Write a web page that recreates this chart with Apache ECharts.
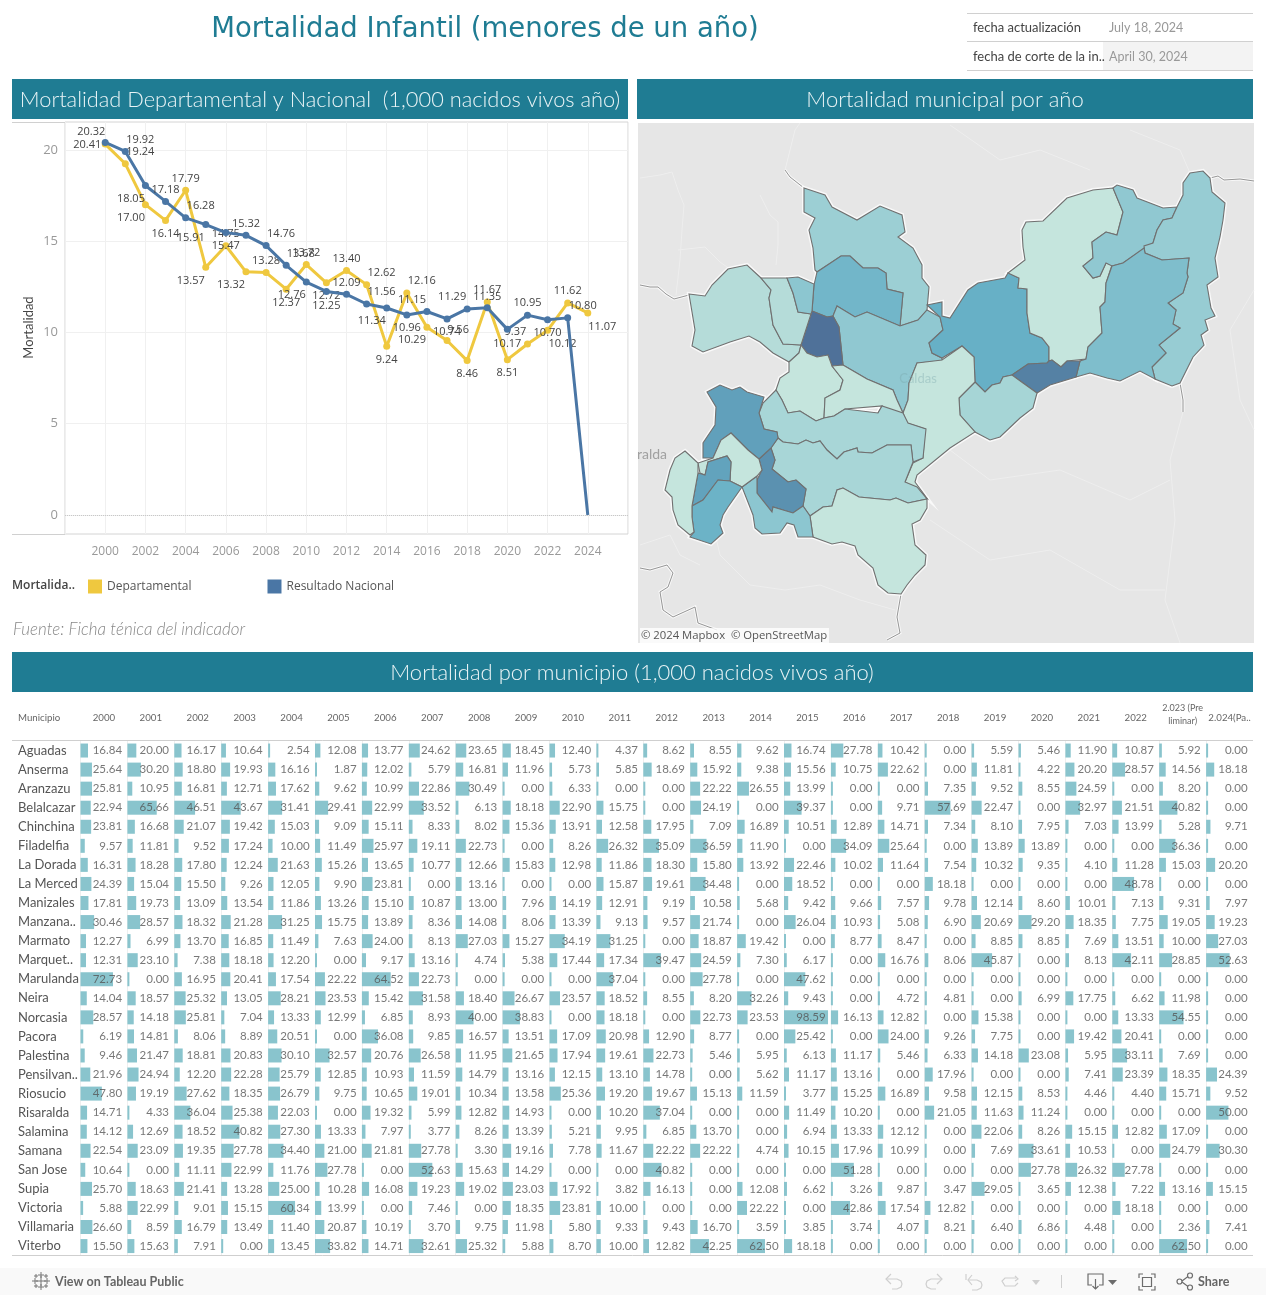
<!DOCTYPE html>
<html><head><meta charset="utf-8">
<script src="https://cdn.jsdelivr.net/npm/echarts@6/dist/echarts.min.js"></script>
<style>html,body{margin:0;padding:0;background:#fff}#c{width:1266px;height:1295px}</style>
</head><body><div id="c"></div>
<script>
// ---------- line chart data ----------
const years=[2000,2001,2002,2003,2004,2005,2006,2007,2008,2009,2010,2011,2012,2013,2014,2015,2016,2017,2018,2019,2020,2021,2022,2023,2024];
const departamental=[20.32,19.24,17.00,16.14,17.79,13.57,14.75,13.32,13.28,12.37,13.72,12.72,13.40,12.62,9.24,12.16,10.29,9.56,8.46,11.67,8.51,9.37,10.12,11.62,11.07];
const nacional=[20.41,19.92,18.05,17.18,16.28,15.91,15.47,15.32,14.76,13.68,12.76,12.25,12.09,11.56,11.34,10.96,11.15,10.74,11.29,11.35,10.17,10.95,10.70,10.80,0];
const deptLabelOffsets=[[-14,-12],[15,-12],[-14.5,13.5],[0,13.6],[0,-11.6],[-15,14],[0,-11.5],[-15,13],[0,-11.6],[0,13.8],[0,-11.5],[0,13],[0,-11.6],[15,-11.7],[0,13.6],[15,-12],[-15,13],[11,-11],[0,13.7],[0,-12],[0,13.6],[-12,-12],[15,14],[0,-12],[14.5,13.5]];
const nacLabelOffsets=[[-18,2],[15,-11.5],[-14.5,13.7],[0,-11.5],[15,-12],[-15,13.4],[0,13.6],[0,-11.3],[15,-11.3],[14.6,-11],[-14.6,13],[0,14],[0,-11],[15,-12],[-15,13.3],[0,13],[-15,-11.5],[0,13],[-15,-12],[0,-11.2],[0,14],[0,-12],[0,13.6],[15,-12],[0,0]];
const yTicks=[0,5,10,15,20];

// ---------- table data ----------
const municipios=['Aguadas','Anserma','Aranzazu','Belalcazar','Chinchina','Filadelfia','La Dorada','La Merced','Manizales','Manzana..','Marmato','Marquet..','Marulanda','Neira','Norcasia','Pacora','Palestina','Pensilvan..','Riosucio','Risaralda','Salamina','Samana','San Jose','Supia','Victoria','Villamaria','Viterbo'];
const colHeaders=['2000','2001','2002','2003','2004','2005','2006','2007','2008','2009','2010','2011','2012','2013','2014','2015','2016','2017','2018','2019','2020','2021','2022','2.023 (Pre\nliminar)','2.024(Pa..'];
const aguadas=[16.84,20.00,16.17,10.64,2.54,12.08,13.77,24.62,23.65,18.45,12.40,4.37,8.62,8.55,9.62,16.74,27.78,10.42,0.00,5.59,5.46,11.90,10.87,5.92,0.00];
const anserma=[25.64,30.20,18.80,19.93,16.16,1.87,12.02,5.79,16.81,11.96,5.73,5.85,18.69,15.92,9.38,15.56,10.75,22.62,0.00,11.81,4.22,20.20,28.57,14.56,18.18];
const aranzazu=[25.81,10.95,16.81,12.71,17.62,9.62,10.99,22.86,30.49,0.00,6.33,0.00,0.00,22.22,26.55,13.99,0.00,0.00,7.35,9.52,8.55,24.59,0.00,8.20,0.00];
const belalcazar=[22.94,65.66,46.51,43.67,31.41,29.41,22.99,33.52,6.13,18.18,22.90,15.75,0.00,24.19,0.00,39.37,0.00,9.71,57.69,22.47,0.00,32.97,21.51,40.82,0.00];
const chinchina=[23.81,16.68,21.07,19.42,15.03,9.09,15.11,8.33,8.02,15.36,13.91,12.58,17.95,7.09,16.89,10.51,12.89,14.71,7.34,8.10,7.95,7.03,13.99,5.28,9.71];
const filadelfia=[9.57,11.81,9.52,17.24,10.00,11.49,25.97,19.11,22.73,0.00,8.26,26.32,35.09,36.59,11.90,0.00,34.09,25.64,0.00,13.89,13.89,0.00,0.00,36.36,0.00];
const laDorada=[16.31,18.28,17.80,12.24,21.63,15.26,13.65,10.77,12.66,15.83,12.98,11.86,18.30,15.80,13.92,22.46,10.02,11.64,7.54,10.32,9.35,4.10,11.28,15.03,20.20];
const laMerced=[24.39,15.04,15.50,9.26,12.05,9.90,23.81,0.00,13.16,0.00,0.00,15.87,19.61,34.48,0.00,18.52,0.00,0.00,18.18,0.00,0.00,0.00,48.78,0.00,0.00];
const manizales=[17.81,19.73,13.09,13.54,11.86,13.26,15.10,10.87,13.00,7.96,14.19,12.91,9.19,10.58,5.68,9.42,9.66,7.57,9.78,12.14,8.60,10.01,7.13,9.31,7.97];
const manzanares=[30.46,28.57,18.32,21.28,31.25,15.75,13.89,8.36,14.08,8.06,13.39,9.13,9.57,21.74,0.00,26.04,10.93,5.08,6.90,20.69,29.20,18.35,7.75,19.05,19.23];
const marmato=[12.27,6.99,13.70,16.85,11.49,7.63,24.00,8.13,27.03,15.27,34.19,31.25,0.00,18.87,19.42,0.00,8.77,8.47,0.00,8.85,8.85,7.69,13.51,10.00,27.03];
const marquetalia=[12.31,23.10,7.38,18.18,12.20,0.00,9.17,13.16,4.74,5.38,17.44,17.34,39.47,24.59,7.30,6.17,0.00,16.76,8.06,45.87,0.00,8.13,42.11,28.85,52.63];
const marulanda=[72.73,0.00,16.95,20.41,17.54,22.22,64.52,22.73,0.00,0.00,0.00,37.04,0.00,27.78,0.00,47.62,0.00,0.00,0.00,0.00,0.00,0.00,0.00,0.00,0.00];
const neira=[14.04,18.57,25.32,13.05,28.21,23.53,15.42,31.58,18.40,26.67,23.57,18.52,8.55,8.20,32.26,9.43,0.00,4.72,4.81,0.00,6.99,17.75,6.62,11.98,0.00];
const norcasia=[28.57,14.18,25.81,7.04,13.33,12.99,6.85,8.93,40.00,38.83,0.00,18.18,0.00,22.73,23.53,98.59,16.13,12.82,0.00,15.38,0.00,0.00,13.33,54.55,0.00];
const pacora=[6.19,14.81,8.06,8.89,20.51,0.00,36.08,9.85,16.57,13.51,17.09,20.98,12.90,8.77,0.00,25.42,0.00,24.00,9.26,7.75,0.00,19.42,20.41,0.00,0.00];
const palestina=[9.46,21.47,18.81,20.83,30.10,32.57,20.76,26.58,11.95,21.65,17.94,19.61,22.73,5.46,5.95,6.13,11.17,5.46,6.33,14.18,23.08,5.95,33.11,7.69,0.00];
const pensilvania=[21.96,24.94,12.20,22.28,25.79,12.85,10.93,11.59,14.79,13.16,12.15,13.10,14.78,0.00,5.62,11.17,13.16,0.00,17.96,0.00,0.00,7.41,23.39,18.35,24.39];
const riosucio=[47.80,19.19,27.62,18.35,26.79,9.75,10.65,19.01,10.34,13.58,25.36,19.20,19.67,15.13,11.59,3.77,15.25,16.89,9.58,12.15,8.53,4.46,4.40,15.71,9.52];
const risaralda=[14.71,4.33,36.04,25.38,22.03,0.00,19.32,5.99,12.82,14.93,0.00,10.20,37.04,0.00,0.00,11.49,10.20,0.00,21.05,11.63,11.24,0.00,0.00,0.00,50.00];
const salamina=[14.12,12.69,18.52,40.82,27.30,13.33,7.97,3.77,8.26,13.39,5.21,9.95,6.85,13.70,0.00,6.94,13.33,12.12,0.00,22.06,8.26,15.15,12.82,17.09,0.00];
const samana=[22.54,23.09,19.35,27.78,34.40,21.00,21.81,27.78,3.30,19.16,7.78,11.67,22.22,22.22,4.74,10.15,17.96,10.99,0.00,7.69,33.61,10.53,0.00,24.79,30.30];
const sanJose=[10.64,0.00,11.11,22.99,11.76,27.78,0.00,52.63,15.63,14.29,0.00,0.00,40.82,0.00,0.00,0.00,51.28,0.00,0.00,0.00,27.78,26.32,27.78,0.00,0.00];
const supia=[25.70,18.63,21.41,13.28,25.00,10.28,16.08,19.23,19.02,23.03,17.92,3.82,16.13,0.00,12.08,6.62,3.26,9.87,3.47,29.05,3.65,12.38,7.22,13.16,15.15];
const victoria=[5.88,22.99,9.01,15.15,60.34,13.99,0.00,7.46,0.00,18.35,23.81,10.00,0.00,0.00,22.22,0.00,42.86,17.54,12.82,0.00,0.00,0.00,18.18,0.00,0.00];
const villamaria=[26.60,8.59,16.79,13.49,11.40,20.87,10.19,3.70,9.75,11.98,5.80,9.33,9.43,16.70,3.59,3.85,3.74,4.07,8.21,6.40,6.86,4.48,0.00,2.36,7.41];
const viterbo=[15.50,15.63,7.91,0.00,13.45,33.82,14.71,32.61,25.32,5.88,8.70,10.00,12.82,42.25,62.50,18.18,0.00,0.00,0.00,0.00,0.00,0.00,0.00,62.50,0.00];
const tableRows=[aguadas,anserma,aranzazu,belalcazar,chinchina,filadelfia,laDorada,laMerced,manizales,manzanares,marmato,marquetalia,marulanda,neira,norcasia,pacora,palestina,pensilvania,riosucio,risaralda,salamina,samana,sanJose,supia,victoria,villamaria,viterbo];

// ---------- map: municipality outlines (traced map units) and shaded value ----------
const mapShapes={
 Aguadas:'804,188 825,195 832,207 857,220 880,206 902,215 905,232 898,237 913,248 922,265 922,278 929,287 927,310 918,320 900,326 903,293 887,289 886,273 878,268 863,268 850,256 841,256 817,272 815,270 813,248 809,230 815,218 804,212',
 Pacora:'817,272 841,256 850,256 863,268 878,268 886,273 887,289 903,293 900,326 867,312 855,317 837,306 833,316 827,317 812,311 814,285',
 Salamina:'837,306 855,317 867,312 900,326 918,320 927,310 940,317 943,330 929,343 932,353 942,358 942,361 917,363 909,383 908,400 903,413 897,400 893,390 867,379 843,365 839,327 833,316',
 Pensilvania:'927,305 942,302 942,316 950,318 968,290 978,283 1005,278 1008,273 1019,278 1018,288 1027,289 1027,313 1030,333 1042,338 1049,347 1049,361 1047,363 1028,364 1012,375 1003,377 1000,383 992,385 985,392 975,382 974,357 962,346 942,358 932,353 929,343 943,330 940,317',
 Samana:'1008,273 1025,260 1023,247 1022,230 1026,222 1043,221 1067,198 1093,190 1113,188 1123,212 1117,235 1106,232 1092,242 1093,258 1083,266 1093,278 1100,276 1106,263 1112,265 1106,283 1105,302 1100,307 1102,333 1088,347 1086,359 1067,361 1061,367 1052,360 1049,361 1049,347 1042,338 1030,333 1027,313 1027,289 1018,288 1019,278',
 Norcasia:'1113,188 1117,185 1133,190 1137,198 1163,208 1177,207 1172,218 1163,220 1157,230 1153,243 1123,263 1112,266 1106,263 1100,276 1093,278 1083,266 1093,258 1092,242 1106,232 1117,235 1123,212',
 'La Dorada':'1172,218 1177,207 1183,195 1183,183 1190,173 1203,171 1210,178 1212,192 1225,203 1223,220 1220,237 1215,258 1218,277 1207,285 1211,308 1215,316 1205,320 1208,330 1201,335 1204,345 1193,357 1188,367 1180,383 1172,386 1155,379 1152,367 1166,353 1159,345 1180,328 1173,324 1176,310 1168,303 1183,293 1188,277 1187,273 1189,258 1162,260 1145,253 1144,246 1153,243 1157,230 1163,220',
 Victoria:'1112,266 1123,263 1144,248 1145,253 1162,260 1189,258 1187,273 1188,277 1183,293 1168,303 1176,310 1173,324 1180,328 1159,345 1166,353 1152,367 1155,379 1140,371 1120,381 1107,378 1090,373 1076,377 1080,361 1086,359 1088,347 1102,333 1100,307 1105,302 1106,283',
 Marquetalia:'1012,375 1028,364 1047,363 1049,361 1052,360 1061,367 1067,361 1080,361 1076,377 1050,385 1037,393 1023,383',
 Manzanares:'1037,393 1033,408 1020,418 1000,437 990,440 975,432 960,415 959,398 975,382 985,392 992,385 1000,383 1003,377 1012,375 1023,383',
 Marulanda:'917,363 942,360 962,346 974,357 975,382 959,398 960,415 975,432 950,448 917,475 915,482 926,497 917,489 905,482 913,463 923,458 925,429 907,423 903,413 908,400 909,383',
 'La Merced':'812,311 827,317 833,316 839,327 843,365 832,366 828,355 817,357 807,353 801,345',
 Riosucio:'689,294 705,296 712,285 728,269 747,265 761,278 771,290 769,298 773,325 783,344 801,345 799,353 789,362 773,353 760,342 749,336 730,342 703,352 692,346 695,330',
 Supia:'761,278 787,278 793,293 798,312 811,314 801,345 783,344 773,325 769,298 771,290',
 Marmato:'787,278 798,277 814,284 812,311 811,314 798,312 793,293',
 Filadelfia:'801,345 807,353 817,357 828,355 832,366 843,380 840,390 825,398 824,418 816,421 800,411 788,413 782,400 776,390 780,378 789,372 789,362 799,353',
 Aranzazu:'832,366 843,365 867,379 893,390 897,400 903,413 878,413 882,406 845,409 834,416 824,418 825,398 840,390 843,380',
 Neira:'776,390 782,400 788,413 800,411 816,421 824,418 834,416 845,409 878,413 882,406 903,413 908,423 926,429 923,458 913,462 911,445 887,445 872,453 858,452 857,448 844,452 837,459 827,450 820,441 813,443 806,440 798,444 783,442 778,438 777,432 764,429 759,413 763,403',
 Manizales:'778,438 783,442 798,444 806,440 813,443 820,441 827,450 837,459 844,452 857,448 858,452 872,453 887,445 911,445 913,462 905,482 917,487 927,499 908,503 896,498 890,500 859,497 843,488 837,490 832,506 823,507 810,516 803,506 806,489 796,480 788,482 772,469 775,460 771,448',
 Villamaria:'810,516 823,507 832,506 837,490 843,488 859,497 890,500 896,498 908,503 927,499 927,508 920,520 912,524 915,545 926,555 925,565 915,575 907,585 901,594 888,593 878,585 873,568 858,555 855,546 842,542 832,544 813,537',
 Risaralda:'771,448 775,460 772,469 788,482 796,480 806,489 803,506 793,513 773,507 772,512 757,493 757,480 762,470 759,459',
 Palestina:'742,487 757,476 757,493 772,512 773,507 793,513 803,506 810,516 813,537 798,537 794,525 787,523 780,533 762,534 755,528 753,515',
 Anserma:'707,392 720,385 732,390 740,387 747,392 764,397 759,413 764,429 777,432 778,438 771,448 759,459 748,450 731,433 721,440 713,458 703,458 703,443 715,425 716,407',
 'San Jose':'713,458 721,440 731,433 748,450 759,459 762,470 757,476 742,487 730,481 731,462 727,456 708,462 705,475 700,473 698,463',
 Belalcazar:'698,473 705,475 708,462 727,456 731,462 730,481 718,480 703,500 692,506',
 Viterbo:'692,506 703,500 718,480 730,481 742,487 728,507 723,515 720,525 723,533 711,544 690,537 694,532 692,517',
 Chinchina:'685,451 698,463 698,473 692,506 692,517 694,532 690,535 678,525 673,510 672,497 665,490 670,470 675,458'
};
const mapNames=['Aguadas','Pacora','Salamina','Pensilvania','Samana','Norcasia','La Dorada','Victoria','Marquetalia','Manzanares','Marulanda','La Merced','Riosucio','Supia','Marmato','Filadelfia','Aranzazu','Neira','Manizales','Villamaria','Risaralda','Palestina','Anserma','San Jose','Belalcazar','Viterbo','Chinchina'];
const mapValues=[20,36,24.5,40,0,24.5,22,31,55,15,0,60,8,8,26,0,0,14,14,0,50,26,45,0,44,38,0];

// ---------- decoration geometry of the base map ----------
const borderLines=[[[640,285],[650,287],[658,287],[666,294],[674,299],[689,295]],[[785,170],[790,177],[804,188]],[[1210,178],[1218,176],[1224,180],[1240,179],[1254,181]],[[901,594],[897,617],[900,633],[887,640]],[[1180,383],[1183,400],[1183,412]],[[640,568],[650,570],[667,565],[673,573],[668,587],[660,592],[663,610],[673,617],[695,607],[698,623],[717,630]]];
const riverLines=[[[640,178],[660,175],[672,172],[678,190],[684,205],[682,230],[680,260],[676,295]],[[760,195],[770,215],[778,222],[778,245],[776,265]],[[678,250],[705,247],[720,262],[745,280]],[[785,170],[795,130],[800,123]],[[640,545],[670,535],[680,555],[700,565]],[[712,520],[720,555],[750,585],[785,590],[820,585],[860,600],[895,610]],[[1254,290],[1230,330],[1240,400],[1254,430]],[[1183,412],[1170,460],[1175,520],[1165,600],[1180,643]],[[950,450],[990,480],[1060,470],[1130,500],[1170,480]],[[930,520],[990,560],[1050,550],[1120,590],[1165,590]],[[950,125],[1000,160],[1040,150],[1090,170]],[[1130,130],[1180,150],[1190,173]]];

// ---------- helpers ----------
const SANS='Lato, "Open Sans", sans-serif';
const OPEN='"Open Sans", sans-serif';
const TEAL='#1F7C93';
const txt=(x,y,text,size,fill,align,extra)=>Object.assign({type:'text',z:50,silent:true,x:x,y:y,style:{text:text,fill:fill,font:(extra&&extra.font)||(size+'px '+SANS),align:align||'left',verticalAlign:'middle'}},extra&&extra.rot?{rotation:extra.rot}:{},extra&&extra.z?{z:extra.z}:{});
const rect=(x,y,w,h,fill,z)=>({type:'rect',z:z===undefined?10:z,silent:true,shape:{x:x,y:y,width:w,height:h},style:{fill:fill}});
const hline=(x1,x2,y,c,z)=>({type:'line',z:z===undefined?10:z,silent:true,shape:{x1:x1,y1:y,x2:x2,y2:y},style:{stroke:c,lineWidth:1}});
const vline=(x,y1,y2,c)=>({type:'line',z:60,silent:true,shape:{x1:x,y1:y1,x2:x,y2:y2},style:{stroke:c,lineWidth:1}});
const poly=(pts,c,w)=>({type:'polyline',z:60,silent:true,shape:{points:pts},style:{stroke:c,lineWidth:w||1.2,fill:null}});
const tri=(pts,c)=>({type:'polygon',z:60,silent:true,shape:{points:pts},style:{fill:c}});
const circ=(x,y,r,c)=>({type:'circle',z:60,silent:true,shape:{cx:x,cy:y,r:r},style:{stroke:c,lineWidth:1.2,fill:'rgba(0,0,0,0)'}});
const box=(x,y,w,h,c)=>({type:'rect',z:60,silent:true,shape:{x:x,y:y,width:w,height:h},style:{stroke:c,lineWidth:1.2,fill:'rgba(0,0,0,0)'}});

// ---------- build map ----------
const features=mapNames.map(n=>({type:'Feature',properties:{name:n},geometry:{type:'Polygon',coordinates:[mapShapes[n].split(' ').map(p=>{const a=p.split(',').map(Number);return [a[0],-a[1]];})]}}));
echarts.registerMap('caldas',{type:'FeatureCollection',features:features});
let mnx=1e9,mxx=-1e9,mny=1e9,mxy=-1e9;
features.forEach(f=>f.geometry.coordinates[0].forEach(p=>{mnx=Math.min(mnx,p[0]);mxx=Math.max(mxx,p[0]);mny=Math.min(mny,-p[1]);mxy=Math.max(mxy,-p[1]);}));
const mapBox={left:mnx,top:mny,width:mxx-mnx,height:mxy-mny};

// ---------- graphics ----------
const GREY='#d0d0d0', DK='#6c6c6c';
const graphics=[
 txt(485,30,'Mortalidad Infantil (menores de un año)',27.5,TEAL,'center',{font:'27.5px "DejaVu Sans"'}),
 hline(967,1253,13.5,GREY),hline(967,1253,41.5,GREY),hline(967,1253,70.5,GREY),
 rect(1103,42,150,28,'#f3f3f3',5),
 txt(973,28,'fecha actualización',13,'#444'),txt(1109,28,'July 18, 2024',12.5,'#999'),
 txt(973,57,'fecha de corte de la in..',13,'#444'),txt(1109,57,'April 30, 2024',12.5,'#999'),
 rect(12,79,616,40,TEAL),rect(637,79,616,40,TEAL),rect(12,652,1241,40,TEAL),
 txt(320,100,'Mortalidad Departamental y Nacional  (1,000 nacidos vivos año)',21.8,'#eaf4f6','center',{font:'300 21.8px Lato'}),
 txt(945,100,'Mortalidad municipal por año',22,'#eaf4f6','center',{font:'300 22px Lato'}),
 txt(632,673,'Mortalidad por municipio (1,000 nacidos vivos año)',22,'#eaf4f6','center',{font:'300 22px Lato'}),
 hline(12,65,122.5,GREY),hline(12,65,534.5,GREY),
 txt(29,327.5,'Mortalidad',13,'#444','center',{rot:Math.PI/2}),
 txt(12,586,'Mortalida..',12,'#444','left',{font:'600 12px "Open Sans"'}),
 txt(13,630,'Fuente: Ficha ténica del indicador',17,'#888','left',{font:'italic 300 17px '+SANS}),
 rect(638,123,616,520,'#e6e6e6',-10),
 txt(918,379,'Caldas',13,'rgba(120,165,170,.38)','center'),
 txt(637,454,'ralda',14,'#a0a0a0','left'),
 rect(640,628,189,15,'rgba(255,255,255,.8)',50),
 txt(641,635.5,'© 2024 Mapbox  © OpenStreetMap',11.3,'#555','left',{z:51,font:'11.3px "Open Sans"'}),
 txt(18,717.5,'Municipio',9.7,'#666','left'),
 hline(12,1253,740.5,'#cfcfcf',30),hline(12,1253,1255.5,'#cfcfcf',30),
 rect(0,1268,1266,27,'#f9f9f9',5),
 txt(55,1281.5,'View on Tableau Public',12.5,'#666','left',{font:'bold 12.5px '+SANS}),
 txt(1198,1281.5,'Share',12.5,'#666','left',{font:'bold 12.5px '+SANS}),
 // Tableau mark
 ...[[41,1281,5],[35,1281,3],[47,1281,3],[41,1275,3],[41,1287,3],[36,1276,2],[46,1276,2],[36,1286,2],[46,1286,2]].flatMap(m=>[
   poly([[m[0]-m[2],m[1]],[m[0]+m[2],m[1]]],'#777',1),
   poly([[m[0],m[1]-m[2]],[m[0],m[1]+m[2]]],'#777',1)]),
 // toolbar
 poly([[891,1274],[886,1279],[891,1284]],'#cfcfcf'),poly([[886,1279],[897,1279],[901,1281],[902,1284],[901,1287],[897,1289],[892,1289]],'#cfcfcf'),
 poly([[937,1274],[942,1279],[937,1284]],'#cfcfcf'),poly([[942,1279],[931,1279],[927,1281],[926,1284],[927,1287],[931,1289],[936,1289]],'#cfcfcf'),
 poly([[966,1274],[966,1280]],'#cfcfcf'),poly([[972,1275],[968,1280],[972,1285]],'#cfcfcf'),poly([[968,1280],[977,1280],[981,1282],[982,1285],[981,1288],[977,1290],[972,1290]],'#cfcfcf'),
 poly([[1015,1276],[1018,1279],[1015,1281]],'#cfcfcf'),poly([[1016,1278],[1005,1278],[1002,1281],[1005,1286],[1015,1286],[1018,1283]],'#cfcfcf'),
 tri([[1032,1280],[1040,1280],[1036,1285]],'#cfcfcf'),
 vline(1061.5,1275,1288,'#cfcfcf'),
 poly([[1092,1285],[1088,1285],[1088,1274],[1103,1274],[1103,1285],[1099,1285]],DK),poly([[1095.5,1279],[1095.5,1289]],DK),poly([[1092.5,1286],[1095.5,1289],[1098.5,1286]],DK),
 tri([[1108,1280],[1117,1280],[1112.5,1285]],DK),
 poly([[1139,1278],[1139,1274],[1143,1274]],DK),poly([[1151,1274],[1155,1274],[1155,1278]],DK),poly([[1155,1286],[1155,1290],[1151,1290]],DK),poly([[1143,1290],[1139,1290],[1139,1286]],DK),
 box(1142.5,1277.5,9,9,DK),
 poly([[1182,1281],[1188,1276.5]],DK),poly([[1182,1282],[1188,1286.5]],DK),circ(1179.5,1281.5,2.5,DK),circ(1190,1275.5,2.5,DK),circ(1190,1287.5,2.5,DK)
];
riverLines.forEach(l=>graphics.push({type:'polyline',z:-6,silent:true,shape:{points:l},style:{stroke:'#eeeeee',lineWidth:1,fill:null}}));
borderLines.forEach(l=>{
 graphics.push({type:'polyline',z:-5,silent:true,shape:{points:l},style:{stroke:'rgba(255,255,255,.7)',lineWidth:3,fill:null}});
 graphics.push({type:'polyline',z:-4,silent:true,shape:{points:l},style:{stroke:'#8a8a8a',lineWidth:0.9,fill:null}});
});

// ---------- grids / axes / series ----------
const lineLabel={show:true,position:'inside',color:'#444',fontSize:11,fontFamily:OPEN,formatter:p=>p.value[1].toFixed(2)};
const point=(vals,offs,hideZero)=>vals.map((v,i)=>{
 const hide=hideZero&&v===0;
 const d={value:[years[i],v],label:{offset:offs[i],show:!hide}};
 if(hide) d.symbol='none';
 return d;
});
const grids=[{left:65,top:122,width:563,height:412,show:true,borderColor:'#d4d4d4',borderWidth:1,backgroundColor:'#fff'}];
const xAxes=[{gridIndex:0,type:'value',min:1998,max:2026,interval:2,axisLine:{show:false},axisTick:{show:false},
  axisLabel:{showMinLabel:false,showMaxLabel:false,color:'#999',fontSize:12,fontFamily:OPEN,margin:12,formatter:v=>String(v)},splitLine:{show:true,lineStyle:{color:'#f0f0f0'}}}];
const yAxes=[{gridIndex:0,type:'value',min:-1.04,max:21.53,axisLine:{show:false},
  axisTick:{show:false,customValues:yTicks},
  axisLabel:{customValues:yTicks,color:'#999',fontSize:13,fontFamily:OPEN,margin:7,padding:[2,0,0,0],formatter:v=>String(v)},splitLine:{show:true,lineStyle:{color:'#f0f0f0'}}}];
const series=[
 {name:'Departamental',type:'line',xAxisIndex:0,yAxisIndex:0,z:3,data:point(departamental,deptLabelOffsets),lineStyle:{color:'#EFC83F',width:3},itemStyle:{color:'#EFC83F'},symbol:'circle',symbolSize:7,label:lineLabel,
  markLine:{silent:true,symbol:'none',label:{show:false},lineStyle:{color:'#c8c8c8',type:'dotted',width:1},data:[{yAxis:0}]}},
 {name:'Resultado Nacional',type:'line',xAxisIndex:0,yAxisIndex:0,z:4,data:point(nacional,nacLabelOffsets,true),lineStyle:{color:'#4A76A5',width:3},itemStyle:{color:'#4A76A5'},symbol:'circle',symbolSize:7,label:lineLabel},
 Object.assign({type:'map',map:'caldas',aspectScale:1,silent:true,z:2,roam:false,selectedMode:false,showLegendSymbol:false,label:{show:false},emphasis:{disabled:true},
  itemStyle:{borderColor:'#707070',borderWidth:1.1},data:mapNames.map((n,i)=>({name:n,value:mapValues[i]}))},mapBox)
];
const COLW=46.9, COL0=80.5, ROWS_TOP=741, ROWS_H=514.6, XMAX=105, LABEL_AT=94.2;
colHeaders.forEach((h,c)=>{
 const gi=c+1;
 grids.push({left:COL0+c*COLW,top:ROWS_TOP,width:COLW,height:ROWS_H});
 const two=h.indexOf('\n')>=0;
 xAxes.push({gridIndex:gi,type:'value',min:0,max:XMAX,position:'top',name:h,nameLocation:'middle',nameGap:two?13:18,
   nameTextStyle:{color:'#666',fontSize:two?9:9.7,fontFamily:SANS,lineHeight:two?13:11,align:'center'},
   axisLine:{show:false},axisTick:{show:false},axisLabel:{show:false},splitLine:{show:false}});
 yAxes.push({gridIndex:gi,type:'category',inverse:true,data:municipios,axisTick:{show:false},
   axisLine:{show:true,lineStyle:{color:'#efefef',width:1}},
   axisLabel:{show:c===0,align:'left',margin:COL0-18,color:'#555',fontSize:13,fontFamily:SANS,interval:0,padding:[2,0,0,0]},splitLine:{show:false}});
 const vals=tableRows.map(r=>r[c]);
 series.push({type:'bar',xAxisIndex:gi,yAxisIndex:gi,barWidth:14,barMinHeight:2,silent:true,z:3,itemStyle:{color:'#89C4CD'},data:vals});
 series.push({type:'scatter',xAxisIndex:gi,yAxisIndex:gi,silent:true,z:5,symbolSize:1,itemStyle:{color:'transparent'},
   data:vals.map((v,i)=>[LABEL_AT,i,v]),
   label:{show:true,position:'left',distance:0,color:'#555',fontSize:11.5,fontFamily:SANS,formatter:p=>p.value[2].toFixed(2)}});
});

const chart=echarts.init(document.getElementById('c'));
chart.setOption({
 animation:false,
 backgroundColor:'#fff',
 graphic:{elements:graphics},
 legend:{left:88,top:579.5,itemWidth:14,itemHeight:14,itemGap:76,padding:0,icon:'rect',selectedMode:false,data:['Departamental','Resultado Nacional'],textStyle:{color:'#555',fontSize:12,fontFamily:OPEN}},
 visualMap:{show:false,type:'continuous',seriesIndex:2,min:0,max:60,inRange:{color:['#C5E5DD','#9CCFD4','#67B0C6','#4F7199']}},
 geo:Object.assign({map:'caldas',aspectScale:1,silent:true,z:1,roam:false,label:{show:false},itemStyle:{areaColor:'rgba(255,255,255,0)',borderColor:'rgba(255,255,255,.75)',borderWidth:4},emphasis:{disabled:true}},mapBox),
 grid:grids,xAxis:xAxes,yAxis:yAxes,series:series
});
</script></body></html>
